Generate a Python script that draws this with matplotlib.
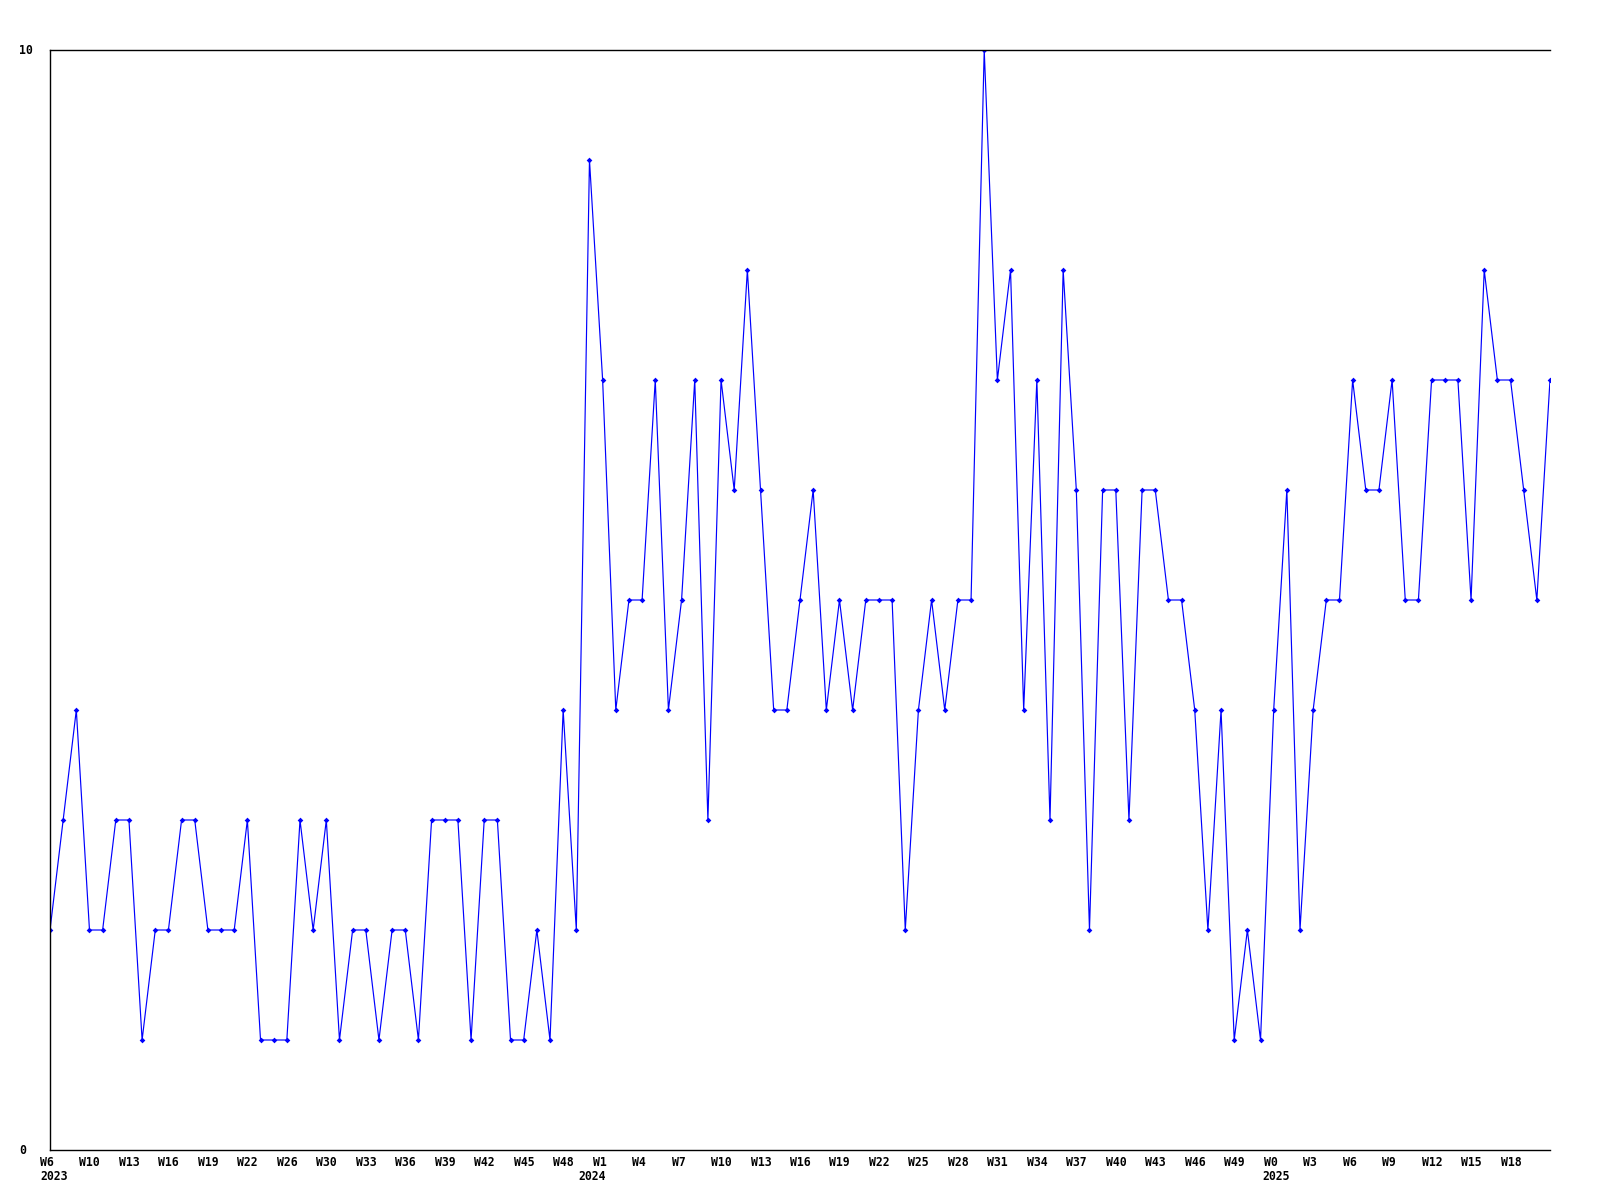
import numpy as np
import matplotlib
matplotlib.use("Agg")
import matplotlib.pyplot as plt
import matplotlib.transforms as mtransforms

# weekly counts, one value per point
values = [2, 3, 4, 2, 2, 3, 3, 1, 2, 2,
          3, 3, 2, 2, 2, 3, 1, 1, 1, 3,
          2, 3, 1, 2, 2, 1, 2, 2, 1, 3,
          3, 3, 1, 3, 3, 1, 1, 2, 1, 4,
          2, 9, 7, 4, 5, 5, 7, 4, 5, 7,
          3, 7, 6, 8, 6, 4, 4, 5, 6, 4,
          5, 4, 5, 5, 5, 2, 4, 5, 4, 5,
          5, 10, 7, 8, 4, 7, 3, 8, 6, 2,
          6, 6, 3, 6, 6, 5, 5, 4, 2, 4,
          1, 2, 1, 4, 6, 2, 4, 5, 5, 7,
          6, 6, 7, 5, 5, 7, 7, 7, 5, 8,
          7, 7, 6, 5, 7]

# a week label every third point
week_labels = ["W6", "W10", "W13", "W16", "W19", "W22", "W26", "W30", "W33",
               "W36", "W39", "W42", "W45", "W48", "W1", "W4", "W7", "W10",
               "W13", "W16", "W19", "W22", "W25", "W28", "W31", "W34", "W37",
               "W40", "W43", "W46", "W49", "W0", "W3", "W6", "W9", "W12",
               "W15", "W18"]
year_labels = ["2023", "2024", "2025"]
year_pos = [0, 42, 93]

x = np.arange(len(values))
tick_pos = x[::3][:len(week_labels)]

fig = plt.figure(figsize=(16, 12), dpi=100)
ax = fig.add_axes([50 / 1600, 50 / 1200, 1500 / 1600, 1100 / 1200])

ax.plot(x, values, color="#0000ff", linewidth=0.85,
        marker="D", markersize=2.9, markerfacecolor="#0000ff",
        markeredgewidth=0)

ax.set_xlim(0, len(values) - 1)
ax.set_ylim(0, 10)

for s in ["left", "top", "bottom"]:
    ax.spines[s].set_color("black")
    ax.spines[s].set_linewidth(1.0)
ax.spines["right"].set_visible(False)

ax.set_xticks([])
ax.set_yticks([])

font = dict(family="DejaVu Sans Mono", fontweight="bold", fontsize=8.3)

# week labels, left edge ~10px before the point
dx = mtransforms.ScaledTranslation(-10 / 100, 0, fig.dpi_scale_trans)
trans = mtransforms.blended_transform_factory(ax.transData, fig.transFigure) + dx
for p, lab in zip(tick_pos, week_labels):
    ax.text(p, 1 - 1163 / 1200, lab, transform=trans, ha="left",
            va="center", **font)

# year labels
year_shift = [-10, -24, -11]
for p, lab, sh in zip(year_pos, year_labels, year_shift):
    t = mtransforms.blended_transform_factory(ax.transData, fig.transFigure) + \
        mtransforms.ScaledTranslation(sh / 100, 0, fig.dpi_scale_trans)
    ax.text(p, 1 - 1177 / 1200, lab, transform=t, ha="left",
            va="center", **font)

# y labels 0 and 10
ytrans = mtransforms.blended_transform_factory(fig.transFigure, ax.transData)
ax.text(19 / 1600, 10, "10", transform=ytrans, ha="left", va="center", **font)
ax.text(19 / 1600, 0, "0", transform=ytrans, ha="left", va="center", **font)

fig.savefig("out.png", dpi=100)
